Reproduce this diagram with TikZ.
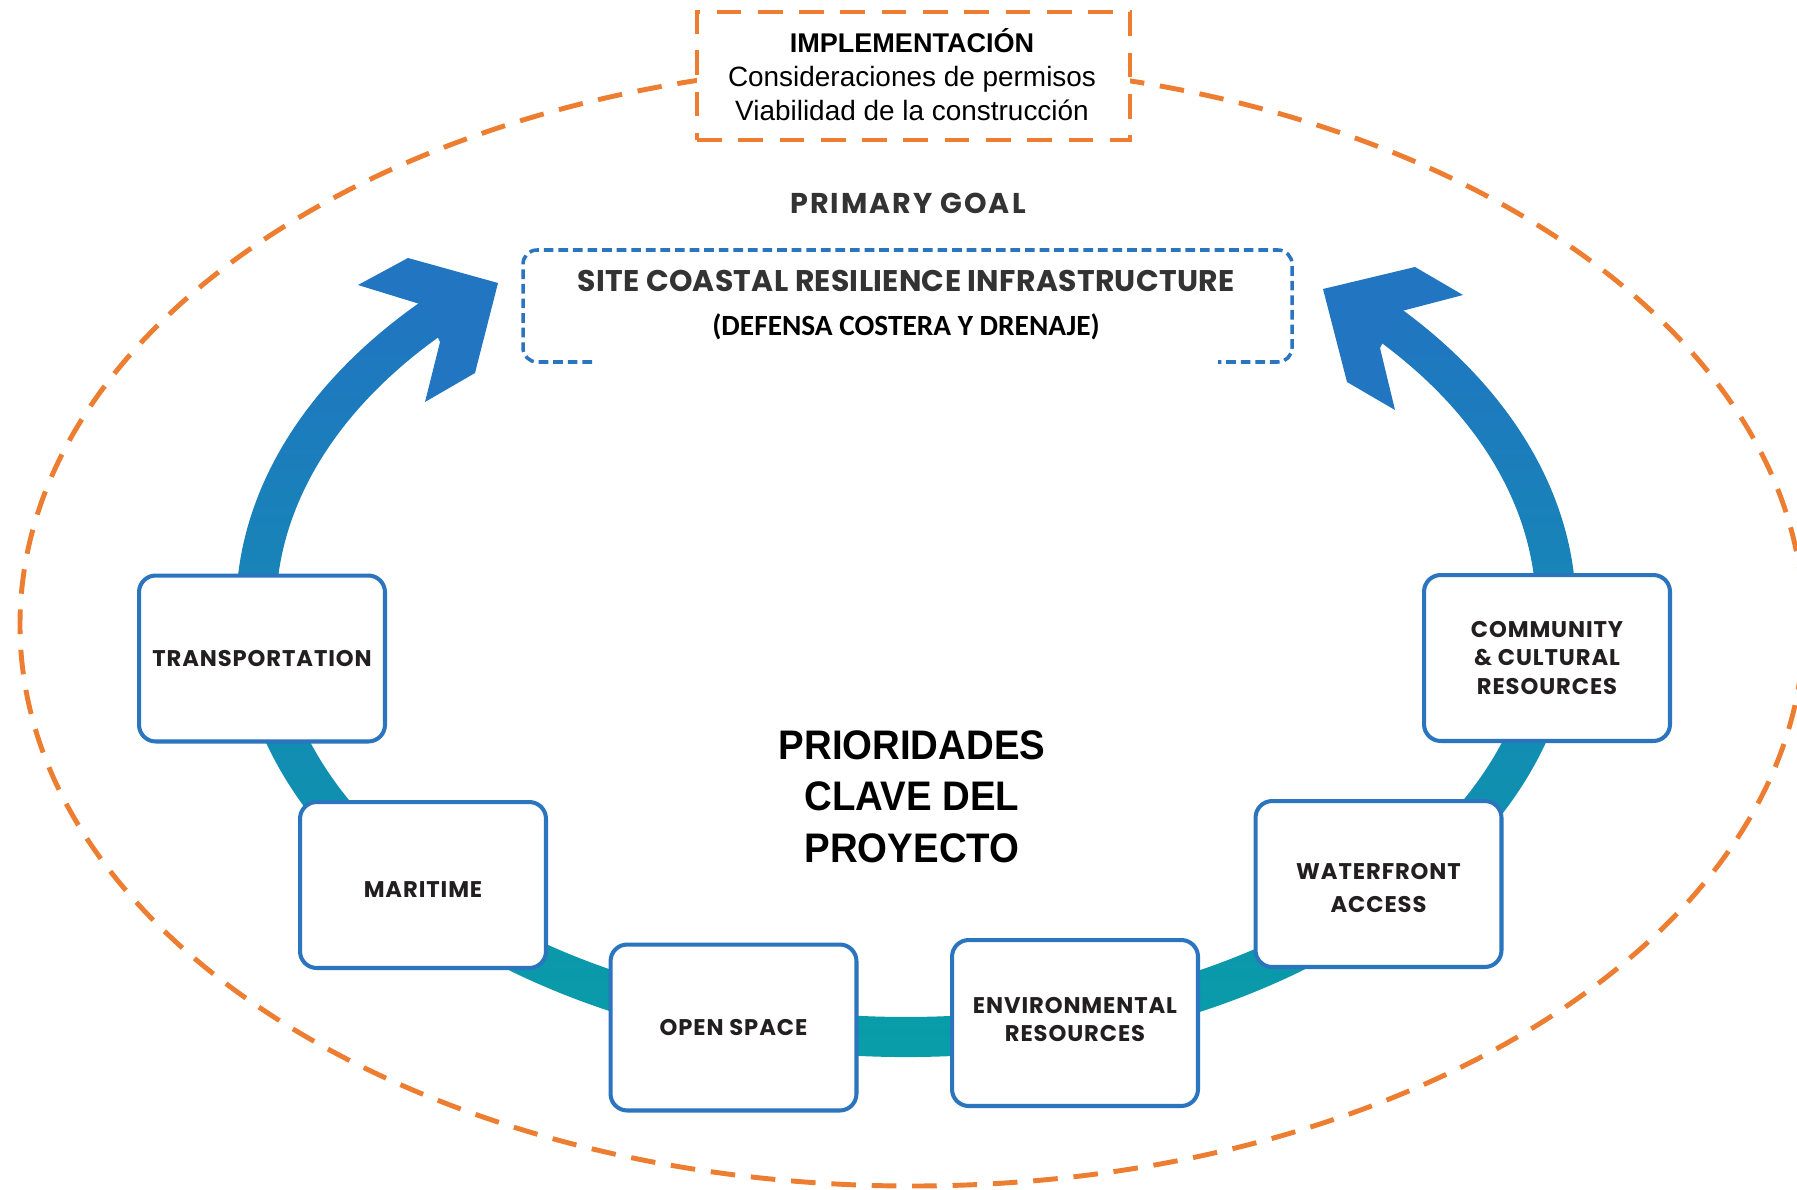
\documentclass[tikz,border=0pt]{standalone}
\usepackage{fontspec}
\setmainfont{Liberation Sans}
\newfontfamily\geofont{Poppins}[LetterSpace=4]
\newfontfamily\goalfont{Poppins}[LetterSpace=7]
\newfontfamily\sitefont{Poppins}[LetterSpace=1]
\newfontfamily\calfont{Carlito}
\newfontfamily\bigfont{Liberation Sans}[FakeStretch=0.93]

\definecolor{orng}{HTML}{ED7D31}
\definecolor{boxblue}{HTML}{2B74BE}
\definecolor{ringtop}{HTML}{2175C1}
\definecolor{ringmid}{HTML}{148FB6}
\definecolor{ringbot}{HTML}{06A0A6}
\definecolor{txtdark}{HTML}{231F20}
\definecolor{goalgrey}{HTML}{333333}

\begin{document}
\begin{tikzpicture}[x=0.02cm, y=-0.02cm,
  prio/.style={draw=boxblue, line width=2.3pt, fill=white, rounded corners=9.5pt,
    minimum width=4.92cm, minimum height=3.32cm, inner sep=0pt, align=center,
    text=txtdark, font=\geofont\bfseries\fontsize{12.9}{16.3}\selectfont},
  priotext/.style={inner sep=0pt, align=center, text=txtdark,
    font=\geofont\bfseries\fontsize{12.9}{16.3}\selectfont},
  implbox/.style={draw=orng, line width=2.5pt, dash pattern=on 14pt off 9.5pt,
    fill=white, minimum width=8.66cm, minimum height=2.56cm, inner sep=0pt},
  impltext/.style={align=center, text=black, inner sep=0pt,
    font=\fontsize{15.9}{19.3}\selectfont},
  outline/.style={draw=orng, line width=2.8pt, dash pattern=on 14pt off 9pt},
  goalframe/.style={draw=boxblue, line width=2pt, dash pattern=on 5.5pt off 2.8pt,
    rounded corners=8pt},
  headfill/.style={fill=ringtop}]

\useasboundingbox (0,0) rectangle (1797,1189);
\clip (0,0) rectangle (1797,1189);
\fill[white] (0,0) rectangle (1797,1189);

% outer dashed boundary
\draw[outline] (912,625) ellipse [x radius=892, y radius=561];

% implementation box on top of the boundary
\node[implbox] (impl) at (913.5,76) {};
\node[impltext] (impltxt) at (912,74.5)
  {{\bfseries\fontsize{15.4}{19.3}\selectfont IMPLEMENTACIÓN}\\Consideraciones de permisos\\Viabilidad de la construcción};

% ring band with colour gradient
\shade[top color=ringtop, middle color=ringmid, bottom color=ringbot]
  (440.6,288.5) arc[start angle=226, end angle=-46, x radius=670, y radius=447]
  -- (1343.7,317.2) arc[start angle=-46, end angle=226, x radius=630, y radius=407]
  -- cycle;

% arrow heads
\fill[headfill] (423,305) -- (358,285) -- (408,258) -- (498,283) -- (475,373)
  -- (425,402) -- (440,342) -- cycle;
\fill[headfill] (1398,312) -- (1463,295) -- (1415,267) -- (1323,289) -- (1347,382)
  -- (1395,410) -- (1380,348) -- cycle;

% primary goal
\node[font=\goalfont\bfseries\fontsize{16.3}{18}\selectfont, text=goalgrey] (goal)
  at (908,203) {PRIMARY GOAL};
\draw[goalframe] (592,362) -- (523,362) -- (523,250) -- (1292,250) -- (1292,362) -- (1218,362);
\node[font=\sitefont\bfseries\fontsize{17}{20}\selectfont, text=goalgrey] (site)
  at (906,281) {SITE COASTAL RESILIENCE INFRASTRUCTURE};
\node[font=\calfont\bfseries\fontsize{16.7}{20}\selectfont, text=black] (defensa)
  at (906,327) {(DEFENSA COSTERA Y DRENAJE)};

% centre title
\node[align=center, font=\bigfont\bfseries\fontsize{23.5}{29.2}\selectfont] (title)
  at (912,796.5) {PRIORIDADES\\CLAVE DEL\\PROYECTO};

% priority boxes
\node[prio] (trans) at (262,658.5) {TRANSPORTATION};
\node[prio] (mari) at (423,885) {};
\node[priotext] (maritxt) at (423,890) {MARITIME};
\node[prio] (open) at (733.5,1027.5) {OPEN SPACE};
\node[prio] (env) at (1075,1023) {};
\node[priotext] (envtxt) at (1075,1019.5) {ENVIRONMENTAL\\RESOURCES};
\node[prio] (water) at (1378.5,884) {};
\node[priotext] (watertxt) at (1378.5,888) {WATERFRONT\\[2.4pt]ACCESS};
\node[prio] (comm) at (1547,658) {COMMUNITY\\\&\ CULTURAL\\RESOURCES};

\end{tikzpicture}
\end{document}
